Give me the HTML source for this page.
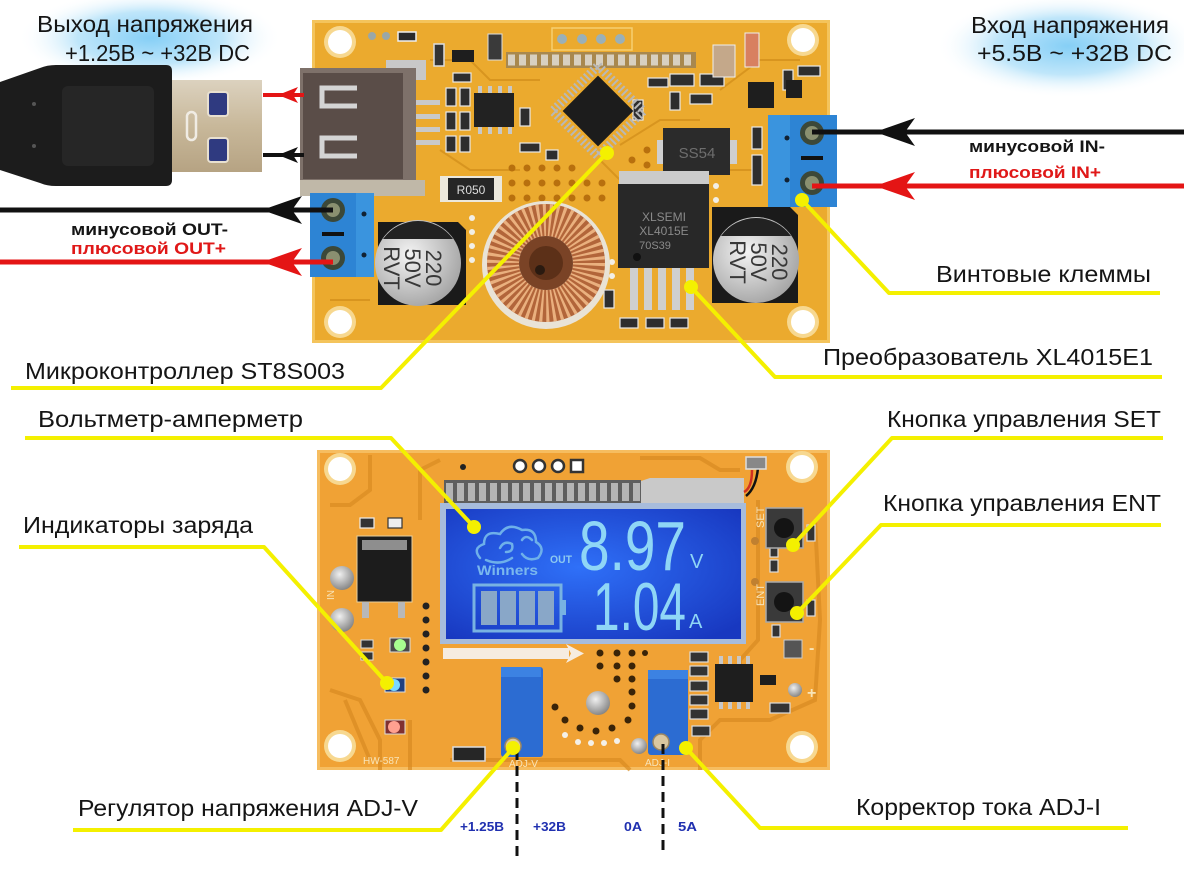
<!DOCTYPE html>
<html><head><meta charset="utf-8">
<style>
html,body{margin:0;padding:0;background:#fff;}
svg{display:block;}
text{font-family:"Liberation Sans","Noto Sans CJK SC",sans-serif;}
</style></head><body>
<svg width="1184" height="880" viewBox="0 0 1184 880" xmlns="http://www.w3.org/2000/svg">
<defs>
<radialGradient id="glow" cx="50%" cy="50%" r="50%">
<stop offset="0" stop-color="#86cff6"/>
<stop offset="0.55" stop-color="#bfe6fa"/>
<stop offset="1" stop-color="#ffffff" stop-opacity="0"/>
</radialGradient>
<radialGradient id="lcd" cx="45%" cy="45%" r="70%">
<stop offset="0" stop-color="#2f70f8"/>
<stop offset="1" stop-color="#1838c0"/>
</radialGradient>
<linearGradient id="metal" x1="0" y1="0" x2="0" y2="1">
<stop offset="0" stop-color="#dcd2bf"/>
<stop offset="0.5" stop-color="#c8b89a"/>
<stop offset="1" stop-color="#b6a383"/>
</linearGradient>
<radialGradient id="cap" cx="40%" cy="40%" r="65%">
<stop offset="0" stop-color="#f4f4f4"/>
<stop offset="1" stop-color="#a4a4a4"/>
</radialGradient>
<radialGradient id="silv" cx="40%" cy="35%" r="70%">
<stop offset="0" stop-color="#f0f0f0"/>
<stop offset="1" stop-color="#808080"/>
</radialGradient>
</defs>
<rect width="1184" height="880" fill="#fff"/>

<!-- glows -->
<ellipse cx="150" cy="38" rx="132" ry="48" fill="url(#glow)"/>
<ellipse cx="1068" cy="46" rx="132" ry="52" fill="url(#glow)"/>

<!-- ============ TOP BOARD ============ -->
<rect x="312" y="20" width="518" height="323" fill="#ebaa2e"/>
<rect x="313.5" y="21.5" width="515" height="320" fill="none" stroke="#f4c45c" stroke-width="3"/>
<g fill="none" stroke="#d8951f" stroke-width="2">
<path d="M430,60 L470,60 L490,80 L540,80"/>
<path d="M660,150 L700,150 L720,170 L760,170"/>
<path d="M600,160 L630,190 L700,190"/>
<path d="M440,150 L470,170 L520,170"/>
<path d="M330,300 L370,300"/>
<path d="M720,90 L760,60 L800,60"/>
<path d="M620,145 L660,120 L700,120"/>
</g>
<!-- holes -->
<g>
<circle cx="340" cy="42" r="16" fill="#f7d890"/><circle cx="340" cy="42" r="12" fill="#fff"/>
<circle cx="340" cy="322" r="16" fill="#f7d890"/><circle cx="340" cy="322" r="12" fill="#fff"/>
<circle cx="803" cy="40" r="16" fill="#f7d890"/><circle cx="803" cy="40" r="12" fill="#fff"/>
<circle cx="803" cy="322" r="16" fill="#f7d890"/><circle cx="803" cy="322" r="12" fill="#fff"/>
</g>
<!-- top small pads -->
<circle cx="372" cy="36" r="4" fill="#9aa7a8"/><circle cx="386" cy="36" r="4" fill="#9aa7a8"/>
<rect x="398" y="32" width="18" height="9" fill="#2a2a2a" stroke="#eee" stroke-width="1.5"/>
<rect x="434" y="44" width="10" height="22" fill="#333" stroke="#ddd" stroke-width="1.5"/>
<rect x="452" y="50" width="22" height="12" fill="#1e1e1e"/>
<rect x="488" y="34" width="14" height="26" fill="#3a3a3a" stroke="#ddd" stroke-width="1"/>
<!-- 4 round pads -->
<rect x="552" y="28" width="80" height="22" fill="none" stroke="#f6d070" stroke-width="1.5"/>
<circle cx="562" cy="39" r="5" fill="#9ab0b8"/><circle cx="582" cy="39" r="5" fill="#9ab0b8"/>
<circle cx="601" cy="39" r="5" fill="#9ab0b8"/><circle cx="620" cy="39" r="5" fill="#9ab0b8"/>
<!-- header row -->
<rect x="506" y="52" width="190" height="16" fill="#a8884e"/>
<line x1="508" y1="60" x2="694" y2="60" stroke="#d8d0c0" stroke-width="11" stroke-dasharray="7 4"/>
<!-- USB receptacle -->
<rect x="386" y="60" width="40" height="20" fill="#c8c8c8"/>
<g fill="#c9c9c9">
<rect x="412" y="100" width="28" height="5"/><rect x="412" y="114" width="28" height="5"/>
<rect x="412" y="127" width="28" height="5"/><rect x="412" y="140" width="28" height="5"/>
</g>
<rect x="300" y="68" width="116" height="115" fill="#7e716a"/>
<rect x="303" y="73" width="100" height="106" fill="#5a4d48"/>
<path d="M357,88 L322,88 L322,106 L357,106" fill="none" stroke="#d4d4d4" stroke-width="5"/>
<path d="M357,138 L322,138 L322,156 L357,156" fill="none" stroke="#d4d4d4" stroke-width="5"/>
<rect x="300" y="180" width="125" height="16" fill="#c0b8a8"/>
<!-- SMD cluster -->
<g fill="#2e2e2e" stroke="#e8e8e8" stroke-width="1.2">
<rect x="446" y="88" width="10" height="18"/><rect x="460" y="88" width="10" height="18"/>
<rect x="446" y="112" width="10" height="18"/><rect x="460" y="112" width="10" height="18"/>
<rect x="446" y="136" width="10" height="16"/><rect x="460" y="136" width="10" height="16"/>
<rect x="453" y="73" width="18" height="9"/>
<rect x="520" y="143" width="20" height="9"/>
<rect x="520" y="108" width="10" height="18"/>
<rect x="633" y="100" width="10" height="20"/>
<rect x="648" y="78" width="20" height="9"/>
<rect x="670" y="74" width="24" height="12"/><rect x="700" y="74" width="24" height="12"/>
<rect x="670" y="92" width="10" height="18"/><rect x="690" y="94" width="22" height="10"/>
<rect x="546" y="150" width="12" height="10"/>
<rect x="783" y="70" width="10" height="20"/>
<rect x="798" y="66" width="22" height="10"/>
<rect x="752" y="127" width="10" height="22"/>
<rect x="752" y="155" width="10" height="30"/>
<rect x="620" y="318" width="18" height="10"/><rect x="646" y="318" width="18" height="10"/><rect x="670" y="318" width="18" height="10"/>
<rect x="604" y="290" width="10" height="18"/>
</g>
<rect x="713" y="45" width="22" height="32" fill="#c4a88a" stroke="#eee" stroke-width="1"/>
<rect x="745" y="33" width="14" height="34" fill="#d88060" stroke="#eee" stroke-width="1"/>
<rect x="748" y="82" width="26" height="26" fill="#1e1e1e"/>
<rect x="786" y="80" width="16" height="18" fill="#1e1e1e"/>
<!-- SOIC -->
<g fill="#c8c8c8">
<rect x="478" y="86" width="4" height="8"/><rect x="488" y="86" width="4" height="8"/><rect x="498" y="86" width="4" height="8"/><rect x="508" y="86" width="4" height="8"/>
<rect x="478" y="126" width="4" height="8"/><rect x="488" y="126" width="4" height="8"/><rect x="498" y="126" width="4" height="8"/><rect x="508" y="126" width="4" height="8"/>
</g>
<rect x="474" y="93" width="40" height="34" fill="#222"/>
<!-- MCU -->
<g transform="rotate(45 598 111)">
<rect x="566" y="79" width="64" height="64" fill="none" stroke="#b8b8b8" stroke-width="9" stroke-dasharray="2 2.6"/>
<rect x="573" y="86" width="50" height="50" fill="#1c1c1c"/>
</g>
<!-- R050 -->
<rect x="440" y="176" width="62" height="26" fill="#ece8dc"/>
<rect x="448" y="178" width="46" height="22" fill="#262626"/>
<text x="471" y="194" font-size="12" fill="#ddd" text-anchor="middle">R050</text>
<!-- vias -->
<g fill="#b8700e">
<circle cx="512" cy="168" r="3.5"/><circle cx="527" cy="168" r="3.5"/><circle cx="542" cy="168" r="3.5"/><circle cx="557" cy="168" r="3.5"/><circle cx="572" cy="168" r="3.5"/>
<circle cx="512" cy="183" r="3.5"/><circle cx="527" cy="183" r="3.5"/><circle cx="542" cy="183" r="3.5"/><circle cx="557" cy="183" r="3.5"/><circle cx="572" cy="183" r="3.5"/><circle cx="587" cy="183" r="3.5"/><circle cx="602" cy="183" r="3.5"/>
<circle cx="512" cy="198" r="3.5"/><circle cx="527" cy="198" r="3.5"/><circle cx="542" cy="198" r="3.5"/><circle cx="557" cy="198" r="3.5"/><circle cx="572" cy="198" r="3.5"/><circle cx="587" cy="198" r="3.5"/><circle cx="602" cy="198" r="3.5"/>
<circle cx="632" cy="160" r="3.5"/><circle cx="647" cy="165" r="3.5"/><circle cx="647" cy="150" r="3.5"/>
</g>
<g fill="#f2efe6">
<circle cx="472" cy="218" r="3"/><circle cx="472" cy="232" r="3"/><circle cx="472" cy="246" r="3"/><circle cx="472" cy="260" r="3"/>
<circle cx="716" cy="186" r="3"/><circle cx="716" cy="200" r="3"/><circle cx="612" cy="262" r="3"/><circle cx="612" cy="276" r="3"/>
</g>
<!-- SS54 -->
<rect x="657" y="140" width="80" height="24" fill="#cfcfcf"/>
<rect x="663" y="128" width="67" height="47" fill="#2b2b2b"/>
<text x="697" y="158" font-size="15" fill="#6e6e6e" text-anchor="middle">SS54</text>
<!-- toroid -->
<circle cx="546" cy="265" r="64" fill="#e9e3d6"/>
<circle cx="546" cy="263" r="43" fill="none" stroke="#b2653a" stroke-width="32"/>
<circle cx="546" cy="263" r="43" fill="none" stroke="#eab07e" stroke-width="32" stroke-dasharray="2.4 3"/>
<circle cx="546" cy="263" r="27" fill="#7a4326"/>
<circle cx="546" cy="263" r="17" fill="#5c3018"/>
<circle cx="540" cy="270" r="5" fill="#2a1a10"/>
<!-- XL4015 -->
<rect x="619" y="171" width="90" height="16" fill="#cbcbcb"/>
<g fill="#cfcfcf">
<rect x="630" y="266" width="8" height="44"/><rect x="644" y="266" width="8" height="44"/><rect x="658" y="266" width="8" height="44"/><rect x="672" y="266" width="8" height="44"/><rect x="686" y="266" width="8" height="44"/>
</g>
<rect x="618" y="184" width="91" height="84" fill="#282828"/>
<text x="664" y="221" font-size="12" fill="#8a8a8a" text-anchor="middle">XLSEMI</text>
<text x="664" y="235" font-size="12" fill="#8a8a8a" text-anchor="middle">XL4015E</text>
<text x="655" y="249" font-size="11" fill="#8a8a8a" text-anchor="middle">70S39</text>
<circle cx="637" cy="257" r="4" fill="#111"/>
<!-- left cap -->
<path d="M378,222 L458,222 L466,230 L466,305 L378,305 Z" fill="#1a1a1a"/>
<circle cx="418" cy="263" r="43" fill="url(#cap)"/>
<path d="M383,239 A43,43 0 0 1 453,239 Z" fill="#222"/>
<g transform="translate(418,268) rotate(90)" font-size="22" fill="#383838" text-anchor="middle">
<text x="0" y="-8">220</text><text x="0" y="13">50V</text><text x="0" y="34">RVT</text>
</g>
<!-- right cap -->
<path d="M712,207 L790,207 L798,215 L798,303 L712,303 Z" fill="#1a1a1a"/>
<circle cx="756" cy="260" r="43" fill="url(#cap)"/>
<path d="M721,236 A43,43 0 0 1 791,236 Z" fill="#222"/>
<g transform="translate(760,262) rotate(90)" font-size="22" fill="#383838" text-anchor="middle">
<text x="0" y="-12">220</text><text x="0" y="9">50V</text><text x="0" y="30">RVT</text>
</g>
<!-- left terminal -->
<rect x="310" y="193" width="64" height="84" fill="#2d84d4"/>
<rect x="356" y="193" width="18" height="84" fill="#3a94de"/>
<circle cx="333" cy="210" r="12" fill="#3c4838"/><circle cx="333" cy="210" r="7" fill="#8a9070"/>
<circle cx="333" cy="258" r="12" fill="#3c4838"/><circle cx="333" cy="258" r="7" fill="#8a9070"/>
<rect x="322" y="232" width="22" height="4" fill="#111"/>
<circle cx="364" cy="214" r="2.5" fill="#123"/><circle cx="364" cy="255" r="2.5" fill="#123"/>
<!-- right terminal -->
<rect x="768" y="115" width="69" height="92" fill="#2d84d4"/>
<rect x="768" y="115" width="22" height="92" fill="#3a94de"/>
<circle cx="812" cy="133" r="12" fill="#3c4838"/><circle cx="812" cy="133" r="7" fill="#8a9070"/>
<circle cx="812" cy="183" r="12" fill="#3c4838"/><circle cx="812" cy="183" r="7" fill="#8a9070"/>
<rect x="801" y="156" width="22" height="4" fill="#111"/>
<circle cx="787" cy="138" r="2.5" fill="#123"/><circle cx="787" cy="180" r="2.5" fill="#123"/>

<!-- USB plug -->
<path d="M0,82 L40,68 Q47,65 56,65 L166,65 Q172,65 172,71 L172,180 Q172,186 166,186 L56,186 Q47,186 40,183 L0,170 Z" fill="#1c1c1c"/>
<rect x="62" y="86" width="92" height="80" rx="6" fill="#262626"/>
<rect x="172" y="80" width="90" height="92" fill="url(#metal)"/>
<rect x="208" y="92" width="20" height="24" rx="3" fill="#2f3a80" stroke="#e8e0d0" stroke-width="2"/>
<rect x="208" y="138" width="20" height="24" rx="3" fill="#2f3a80" stroke="#e8e0d0" stroke-width="2"/>
<rect x="187" y="112" width="9" height="28" rx="4.5" fill="none" stroke="#f0ece4" stroke-width="2.5"/>
<circle cx="34" cy="104" r="2" fill="#555"/><circle cx="34" cy="146" r="2" fill="#555"/>

<!-- wires & arrows left -->
<line x1="263" y1="95" x2="304" y2="95" stroke="#e41515" stroke-width="4"/>
<polygon points="278,95 298,87 293,95 298,103" fill="#e41515"/>
<line x1="263" y1="155" x2="304" y2="155" stroke="#111" stroke-width="4"/>
<polygon points="278,155 298,147 293,155 298,163" fill="#111"/>
<line x1="0" y1="210" x2="333" y2="210" stroke="#111" stroke-width="5"/>
<polygon points="262,210 302,196 292,210 302,224" fill="#111"/>
<line x1="0" y1="262" x2="333" y2="262" stroke="#e41515" stroke-width="5"/>
<polygon points="262,262 302,248 292,262 302,276" fill="#e41515"/>
<!-- wires right -->
<line x1="812" y1="132" x2="1184" y2="132" stroke="#111" stroke-width="5"/>
<polygon points="875,132 915,118 905,132 915,146" fill="#111"/>
<line x1="812" y1="186" x2="1184" y2="186" stroke="#e41515" stroke-width="5"/>
<polygon points="875,186 915,172 905,186 915,200" fill="#e41515"/>

<!-- ============ BOTTOM BOARD ============ -->
<rect x="317" y="450" width="513" height="320" fill="#f0a235"/>
<rect x="318.5" y="451.5" width="510" height="317" fill="none" stroke="#f6bd60" stroke-width="3"/>
<g fill="none" stroke="#d98b22" stroke-width="4" opacity="0.7">
<path d="M370,455 L370,490 L350,505 L330,505"/>
<path d="M330,690 L360,700 L380,740 L380,770"/>
<path d="M410,720 L410,770"/>
<path d="M450,760 L620,760 L630,770"/>
<path d="M640,458 L700,458 L720,470 L740,470"/>
<path d="M758,500 L758,640 L740,660 L740,690"/>
<path d="M815,520 L820,620 L815,700 L770,720 L720,720 L700,740 L700,770"/>
<path d="M420,520 L420,470 L440,460"/>
<path d="M345,700 L370,760"/>
</g>
<g>
<circle cx="340" cy="469" r="16" fill="#f7d890"/><circle cx="340" cy="469" r="12" fill="#fff"/>
<circle cx="340" cy="746" r="16" fill="#f7d890"/><circle cx="340" cy="746" r="12" fill="#fff"/>
<circle cx="802" cy="467" r="16" fill="#f7d890"/><circle cx="802" cy="467" r="12" fill="#fff"/>
<circle cx="802" cy="747" r="16" fill="#f7d890"/><circle cx="802" cy="747" r="12" fill="#fff"/>
</g>
<!-- top pads -->
<circle cx="463" cy="467" r="3" fill="#222"/>
<circle cx="520" cy="466" r="6" fill="#fff" stroke="#333" stroke-width="2.5"/>
<circle cx="539" cy="466" r="6" fill="#fff" stroke="#333" stroke-width="2.5"/>
<circle cx="558" cy="466" r="6" fill="#fff" stroke="#333" stroke-width="2.5"/>
<rect x="571" y="460" width="12" height="12" fill="#fff" stroke="#333" stroke-width="2.5"/>
<!-- LCD header -->
<rect x="444" y="480" width="197" height="24" fill="#5e5e5e"/>
<line x1="446" y1="492" x2="640" y2="492" stroke="#b4b4b4" stroke-width="18" stroke-dasharray="7 4"/>
<path d="M641,481 L650,478 L744,478 L744,504 L641,504 Z" fill="#c9c9c9"/>
<path d="M744,492 Q752,488 752,470" fill="none" stroke="#d03020" stroke-width="2.5"/>
<path d="M746,496 Q756,488 758,468" fill="none" stroke="#111" stroke-width="2.5"/>
<rect x="746" y="457" width="20" height="12" fill="#888" stroke="#ddd" stroke-width="1.5"/>
<!-- LCD -->
<rect x="440" y="503" width="306" height="141" fill="#a7bcdc"/>
<rect x="446" y="509" width="295" height="130" fill="url(#lcd)"/>
<g fill="none" stroke="#6eb0ea" stroke-width="2.5" stroke-linecap="round">
<path d="M480,558 Q472,548 484,544 Q484,530 500,534 Q508,522 522,530 Q536,528 536,542 Q546,548 538,558 Q528,562 522,554"/>
<path d="M500,548 Q504,540 512,544 Q514,552 506,552"/>
<path d="M522,540 Q526,534 532,540"/>
<path d="M486,560 Q500,566 512,558"/>
</g>
<text x="477" y="575" font-size="14" font-weight="bold" fill="#7ab8ee" textLength="61" lengthAdjust="spacingAndGlyphs">Winners</text>
<text x="550" y="563" font-size="11" font-weight="bold" fill="#8cc8f0" textLength="22" lengthAdjust="spacingAndGlyphs">OUT</text>
<text x="579" y="570" font-size="70" fill="#8fd6f6" textLength="107" lengthAdjust="spacingAndGlyphs">8.97</text>
<text x="690" y="568" font-size="20" fill="#8fd6f6">V</text>
<text x="593" y="630" font-size="68" fill="#8fd6f6" textLength="93" lengthAdjust="spacingAndGlyphs">1.04</text>
<text x="689" y="628" font-size="20" fill="#8fd6f6">A</text>
<rect x="474" y="585" width="87" height="46" fill="none" stroke="#78b2e2" stroke-width="3"/>
<rect x="561" y="600" width="5" height="15" fill="#78b2e2"/>
<g fill="#89a7c8">
<rect x="481" y="591" width="16" height="34"/><rect x="500" y="591" width="16" height="34"/><rect x="519" y="591" width="16" height="34"/><rect x="538" y="591" width="16" height="34"/>
</g>
<!-- white arrow -->
<rect x="443" y="648" width="126" height="11" fill="#f6ece0"/>
<path d="M566,644 L584,653.5 L566,663 L571,653.5 Z" fill="#f6ece0"/>
<!-- MOSFET & left -->
<rect x="360" y="518" width="14" height="10" fill="#333" stroke="#eee" stroke-width="1.2"/>
<rect x="388" y="518" width="14" height="10" fill="#eee" stroke="#333" stroke-width="1.2"/>
<rect x="357" y="536" width="55" height="66" fill="#1c1c1c" stroke="#e8d0a0" stroke-width="1"/>
<rect x="362" y="540" width="45" height="10" fill="#8e8e8e"/>
<rect x="362" y="602" width="7" height="16" fill="#b8b8b8"/><rect x="398" y="602" width="7" height="16" fill="#b8b8b8"/>
<circle cx="342" cy="578" r="12" fill="url(#silv)"/>
<circle cx="342" cy="620" r="12" fill="url(#silv)"/>
<g fill="#222">
<circle cx="426" cy="606" r="3.5"/><circle cx="426" cy="620" r="3.5"/><circle cx="426" cy="634" r="3.5"/><circle cx="426" cy="648" r="3.5"/><circle cx="426" cy="662" r="3.5"/><circle cx="426" cy="676" r="3.5"/><circle cx="426" cy="690" r="3.5"/>
</g>
<rect x="361" y="640" width="12" height="8" fill="#333" stroke="#ddd"/>
<rect x="361" y="652" width="12" height="8" fill="#333" stroke="#ddd"/>
<rect x="390" y="638" width="20" height="14" fill="#4a4a4a" stroke="#ddd"/>
<circle cx="400" cy="645" r="6" fill="#a8ff90"/>
<rect x="385" y="678" width="20" height="14" fill="#204080" stroke="#ddd"/>
<circle cx="394" cy="685" r="6" fill="#7ad8ff"/>
<rect x="385" y="720" width="20" height="14" fill="#803030" stroke="#ddd"/>
<circle cx="394" cy="727" r="6" fill="#ffa090"/>
<rect x="453" y="747" width="32" height="14" fill="#262626" stroke="#ddd" stroke-width="1.5"/>
<!-- vias middle -->
<g fill="#3a2408">
<circle cx="600" cy="653" r="3.5"/><circle cx="617" cy="653" r="3.5"/><circle cx="632" cy="653" r="3.5"/><circle cx="645" cy="653" r="3"/>
<circle cx="600" cy="666" r="3.5"/><circle cx="617" cy="666" r="3.5"/><circle cx="632" cy="666" r="3.5"/>
<circle cx="617" cy="679" r="3.5"/><circle cx="632" cy="679" r="3.5"/>
<circle cx="632" cy="692" r="3.5"/><circle cx="632" cy="706" r="3.5"/><circle cx="628" cy="720" r="3.5"/>
<circle cx="555" cy="707" r="3.5"/><circle cx="565" cy="720" r="3.5"/><circle cx="580" cy="728" r="3.5"/><circle cx="596" cy="731" r="3.5"/><circle cx="612" cy="728" r="3.5"/>
</g>
<g fill="#f4f0e8">
<circle cx="565" cy="735" r="3"/><circle cx="578" cy="742" r="3"/><circle cx="591" cy="743" r="3"/><circle cx="604" cy="743" r="3"/><circle cx="617" cy="741" r="3"/>
</g>
<circle cx="598" cy="703" r="12" fill="url(#silv)"/>
<!-- pots -->
<rect x="501" y="667" width="42" height="90" rx="3" fill="#2c6cd2"/>
<rect x="501" y="667" width="40" height="10" fill="#3c82e2"/>
<circle cx="513" cy="746" r="8" fill="#dac7a0" stroke="#9c8660" stroke-width="1.5"/>
<rect x="648" y="670" width="40" height="85" rx="3" fill="#2c6cd2"/>
<rect x="648" y="670" width="40" height="9" fill="#3c82e2"/>
<circle cx="661" cy="742" r="8" fill="#dac7a0" stroke="#9c8660" stroke-width="1.5"/>
<circle cx="639" cy="746" r="8" fill="url(#silv)"/>
<!-- right side comps -->
<g fill="#333" stroke="#ddd" stroke-width="1.2">
<rect x="690" y="652" width="18" height="10"/><rect x="690" y="666" width="18" height="10"/>
<rect x="690" y="681" width="18" height="10"/><rect x="690" y="695" width="18" height="10"/>
<rect x="690" y="709" width="18" height="10"/><rect x="692" y="726" width="18" height="10"/>
<rect x="770" y="545" width="8" height="12"/><rect x="770" y="560" width="8" height="12"/>
<rect x="772" y="625" width="8" height="12"/><rect x="807" y="525" width="8" height="16"/><rect x="807" y="600" width="8" height="16"/>
<rect x="770" y="703" width="20" height="10"/>
</g>
<g fill="#c8c8c8">
<rect x="719" y="656" width="4" height="9"/><rect x="728" y="656" width="4" height="9"/><rect x="737" y="656" width="4" height="9"/><rect x="746" y="656" width="4" height="9"/>
<rect x="719" y="700" width="4" height="9"/><rect x="728" y="700" width="4" height="9"/><rect x="737" y="700" width="4" height="9"/><rect x="746" y="700" width="4" height="9"/>
</g>
<rect x="715" y="664" width="38" height="38" fill="#1e1e1e"/>
<rect x="766" y="508" width="37" height="40" fill="#3a3a3a" stroke="#aaa" stroke-width="1.5"/>
<circle cx="784" cy="528" r="10" fill="#141414"/>
<rect x="766" y="582" width="37" height="40" fill="#3a3a3a" stroke="#aaa" stroke-width="1.5"/>
<circle cx="784" cy="602" r="10" fill="#141414"/>
<rect x="784" y="640" width="18" height="18" fill="#555" stroke="#ccc" stroke-width="1"/>
<rect x="760" y="675" width="16" height="10" fill="#1e1e1e"/>
<circle cx="795" cy="690" r="7" fill="url(#silv)"/>
<circle cx="755" cy="541" r="4" fill="#c08030"/><circle cx="755" cy="582" r="4" fill="#c08030"/>
<g fill="#f8e4b8" font-size="11">
<text transform="translate(764,528) rotate(-90)">SET</text>
<text transform="translate(764,606) rotate(-90)">ENT</text>
<text x="363" y="764" font-size="10">HW-587</text>
<text x="509" y="767" font-size="10">ADJ-V</text>
<text x="645" y="766" font-size="10">ADJ-I</text>
<text x="809" y="653" font-size="16" font-weight="bold">-</text>
<text x="807" y="698" font-size="16" font-weight="bold">+</text>
<text transform="translate(334,600) rotate(-90)" font-size="10">IN</text>
</g>

<!-- dashed lines -->
<line x1="517" y1="750" x2="517" y2="858" stroke="#111" stroke-width="3" stroke-dasharray="10 6"/>
<line x1="663" y1="744" x2="663" y2="850" stroke="#111" stroke-width="3" stroke-dasharray="10 6"/>
<g font-size="13" font-weight="bold" fill="#2030b0">
<text x="460" y="831" textLength="44" lengthAdjust="spacingAndGlyphs">+1.25В</text>
<text x="533" y="831" textLength="33" lengthAdjust="spacingAndGlyphs">+32В</text>
<text x="624" y="831" textLength="18" lengthAdjust="spacingAndGlyphs">0A</text>
<text x="678" y="831" textLength="19" lengthAdjust="spacingAndGlyphs">5A</text>
</g>

<!-- ============ YELLOW LEADERS ============ -->
<g fill="none" stroke="#f4f000" stroke-width="4" stroke-linejoin="round">
<polyline points="11,388 381,388 607,153"/>
<polyline points="1162,377 775,377 691,287"/>
<polyline points="1160,293 889,293 802,200"/>
<polyline points="25,438 391,438 474,527"/>
<polyline points="19,547 264,547 387,683"/>
<polyline points="73,830 441,830 513,748"/>
<polyline points="1163,438 892,438 793,545"/>
<polyline points="1161,525 881,525 797,613"/>
<polyline points="1128,828 760,828 686,748"/>
</g>
<g fill="#f4f000">
<circle cx="607" cy="153" r="7"/><circle cx="691" cy="287" r="7"/><circle cx="802" cy="200" r="7"/>
<circle cx="474" cy="527" r="7"/><circle cx="387" cy="683" r="7"/><circle cx="513" cy="748" r="7"/>
<circle cx="793" cy="545" r="7"/><circle cx="797" cy="613" r="7"/><circle cx="686" cy="748" r="7"/>
</g>

<!-- ============ LABELS ============ -->
<g fill="#151515" font-size="23">
<text x="37" y="32" textLength="216" lengthAdjust="spacingAndGlyphs">Выход напряжения</text>
<text x="65" y="61" textLength="185" lengthAdjust="spacingAndGlyphs">+1.25В ~ +32В DC</text>
<text x="971" y="33" textLength="198" lengthAdjust="spacingAndGlyphs">Вход напряжения</text>
<text x="977" y="61" textLength="195" lengthAdjust="spacingAndGlyphs">+5.5В ~ +32В DC</text>
<text x="25" y="379" textLength="320" lengthAdjust="spacingAndGlyphs">Микроконтроллер ST8S003</text>
<text x="823" y="365" textLength="330" lengthAdjust="spacingAndGlyphs">Преобразователь XL4015E1</text>
<text x="936" y="282" textLength="215" lengthAdjust="spacingAndGlyphs">Винтовые клеммы</text>
<text x="38" y="427" textLength="265" lengthAdjust="spacingAndGlyphs">Вольтметр-амперметр</text>
<text x="23" y="533" textLength="230" lengthAdjust="spacingAndGlyphs">Индикаторы заряда</text>
<text x="78" y="816" textLength="340" lengthAdjust="spacingAndGlyphs">Регулятор напряжения ADJ-V</text>
<text x="887" y="427" textLength="274" lengthAdjust="spacingAndGlyphs">Кнопка управления SET</text>
<text x="883" y="511" textLength="278" lengthAdjust="spacingAndGlyphs">Кнопка управления ENT</text>
<text x="856" y="815" textLength="245" lengthAdjust="spacingAndGlyphs">Корректор тока ADJ-I</text>
</g>
<g font-size="17" font-weight="bold">
<text x="71" y="235" fill="#151515" textLength="157" lengthAdjust="spacingAndGlyphs">минусовой OUT-</text>
<text x="71" y="254" fill="#e01818" textLength="155" lengthAdjust="spacingAndGlyphs">плюсовой OUT+</text>
<text x="969" y="152" fill="#151515" textLength="136" lengthAdjust="spacingAndGlyphs">минусовой IN-</text>
<text x="969" y="178" fill="#e01818" textLength="132" lengthAdjust="spacingAndGlyphs">плюсовой IN+</text>
</g>
</svg>
</body></html>
